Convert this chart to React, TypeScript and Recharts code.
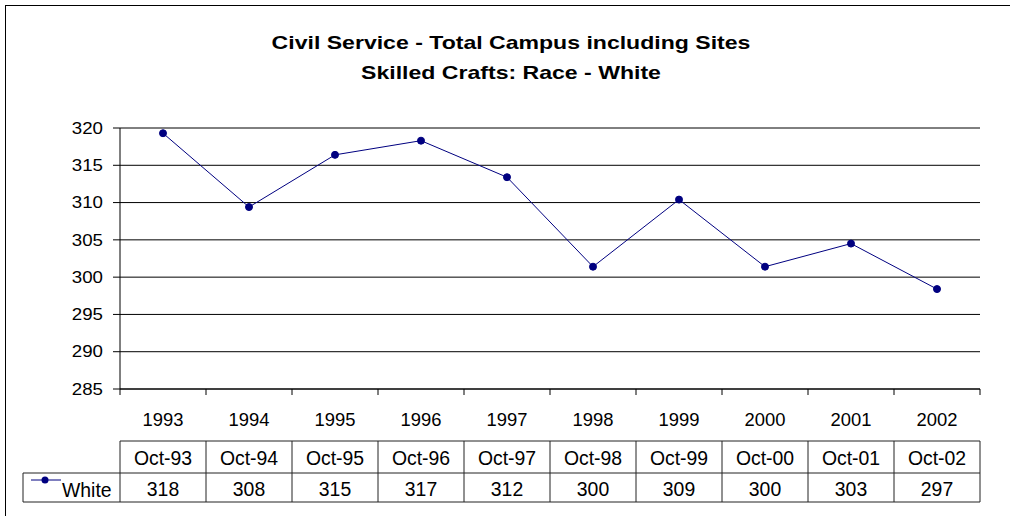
import React from 'react';
import { LineChart, Line, XAxis, YAxis, CartesianGrid } from 'recharts';

const years = ['1993', '1994', '1995', '1996', '1997', '1998', '1999', '2000', '2001', '2002'];
const months = ['Oct-93', 'Oct-94', 'Oct-95', 'Oct-96', 'Oct-97', 'Oct-98', 'Oct-99', 'Oct-00', 'Oct-01', 'Oct-02'];
// values shown in the data table
const tableValues = [318, 308, 315, 317, 312, 300, 309, 300, 303, 297];
// values as plotted
const plotted = [319.3, 309.4, 316.4, 318.3, 313.4, 301.4, 310.4, 301.4, 304.5, 298.4];
const yTicks = [285, 290, 295, 300, 305, 310, 315, 320];
const seriesName = 'White';
const titleLines = ['Civil Service - Total Campus including Sites', 'Skilled Crafts: Race - White'];

const data = years.map((y, i) => ({ year: y, value: plotted[i] }));

const W = 1010;
const H = 516;
const PLOT_LEFT = 120;
const PLOT_RIGHT = 980;
const PLOT_TOP = 128;
const PLOT_BOTTOM = 389;
const Y_AXIS_W = 60;
const X_AXIS_H = 30;
const FONT = 'Arial, "Liberation Sans", sans-serif';
const NAVY = '#000080';
const BORDER = '#222';

const YTick = (props: any) => {
  const { x, y, payload } = props;
  return (
    <text
      transform={`translate(${x},${y}) scale(1.1,1)`}
      x={0}
      y={0}
      textAnchor="end"
      dominantBaseline="central"
      fontFamily={FONT}
      fontSize={17}
      fill="#000"
    >
      {payload.value}
    </text>
  );
};

const TableTick = (props: any) => {
  const { x, y, payload, index } = props;
  const fallbackHalf = (PLOT_RIGHT - PLOT_LEFT) / years.length / 2;
  const half = payload && payload.offset ? payload.offset : fallbackHalf;
  const left = x - half;
  const right = x + half;
  const i = typeof index === 'number' ? index : years.indexOf(payload.value);
  const top = y + 52;
  const mid = y + 84;
  const bottom = y + 113;
  const isLast = i === years.length - 1;
  const txt = { fontFamily: FONT, fontSize: 19.4, fill: '#000' } as any;
  return (
    <g>
      <line x1={left} x2={left} y1={y} y2={y + 6} stroke="#000" />
      {isLast && <line x1={right} x2={right} y1={y} y2={y + 6} stroke="#000" />}
      <text x={x} y={y + 30} textAnchor="middle" dominantBaseline="central" {...txt} fontSize={18.4}>
        {payload.value}
      </text>
      <line x1={left} x2={right} y1={top} y2={top} stroke={BORDER} />
      <line x1={left} x2={right} y1={mid} y2={mid} stroke={BORDER} />
      <line x1={left} x2={right} y1={bottom} y2={bottom} stroke={BORDER} />
      <line x1={left} x2={left} y1={top} y2={bottom} stroke={BORDER} />
      {isLast && <line x1={right} x2={right} y1={top} y2={bottom} stroke={BORDER} />}
      <text x={x} y={(top + mid) / 2 + 0.5} textAnchor="middle" dominantBaseline="central" {...txt}>
        {months[i]}
      </text>
      <text x={x} y={(mid + bottom) / 2 + 1.5} textAnchor="middle" dominantBaseline="central" {...txt}>
        {tableValues[i]}
      </text>
      {i === 0 && (
        <g>
          <line x1={left - 97} x2={left} y1={mid} y2={mid} stroke={BORDER} />
          <line x1={left - 97} x2={left} y1={bottom} y2={bottom} stroke={BORDER} />
          <line x1={left - 97} x2={left - 97} y1={mid} y2={bottom} stroke={BORDER} />
          <line x1={left - 89} x2={left - 59} y1={mid + 7} y2={mid + 7} stroke={NAVY} strokeWidth={1} />
          <circle cx={left - 75} cy={mid + 7} r={3.5} fill={NAVY} />
          <text x={left - 58} y={(mid + bottom) / 2 + 2.5} textAnchor="start" dominantBaseline="central" {...txt}>
            {seriesName}
          </text>
        </g>
      )}
    </g>
  );
};

export default function App() {
  return (
    <div style={{ position: 'absolute', left: 0, top: 0, width: W, height: H, overflow: 'hidden', background: '#fff' }}>
      <div
        style={{
          position: 'absolute',
          left: 5,
          top: 5,
          width: 1200,
          height: 800,
          border: '1.5px solid #000',
          boxSizing: 'border-box',
        }}
      />
      <div
        style={{
          position: 'absolute',
          left: 0,
          top: 28,
          width: 1022,
          textAlign: 'center',
          fontFamily: FONT,
          fontWeight: 'bold',
          fontSize: 18.6,
          lineHeight: '30px',
          color: '#000',
          transform: 'scaleX(1.24)',
          transformOrigin: '511px 0',
        }}
      >
        {titleLines.map((t) => (
          <div key={t}>{t}</div>
        ))}
      </div>
      <div style={{ position: 'absolute', left: 0, top: 0 }}>
        <LineChart
          width={W}
          height={H}
          data={data}
          margin={{
            top: PLOT_TOP,
            right: W - PLOT_RIGHT,
            bottom: H - PLOT_BOTTOM - X_AXIS_H,
            left: PLOT_LEFT - Y_AXIS_W,
          }}
        >
          <CartesianGrid vertical={false} stroke="#000" strokeWidth={1} />
          <XAxis
            dataKey="year"
            scale="band"
            height={X_AXIS_H}
            interval={0}
            tickLine={false}
            tickSize={0}
            tickMargin={0}
            axisLine={{ stroke: '#000' }}
            tick={<TableTick />}
          />
          <YAxis
            width={Y_AXIS_W}
            domain={[285, 320]}
            ticks={yTicks}
            interval={0}
            allowDataOverflow
            tickSize={7}
            tickMargin={10}
            axisLine={{ stroke: '#000' }}
            tickLine={{ stroke: '#000' }}
            tick={<YTick />}
          />
          <Line
            type="linear"
            dataKey="value"
            stroke={NAVY}
            strokeWidth={1}
            dot={{ r: 3.5, fill: NAVY, stroke: NAVY, strokeWidth: 1 }}
            isAnimationActive={false}
          />
        </LineChart>
      </div>
    </div>
  );
}
